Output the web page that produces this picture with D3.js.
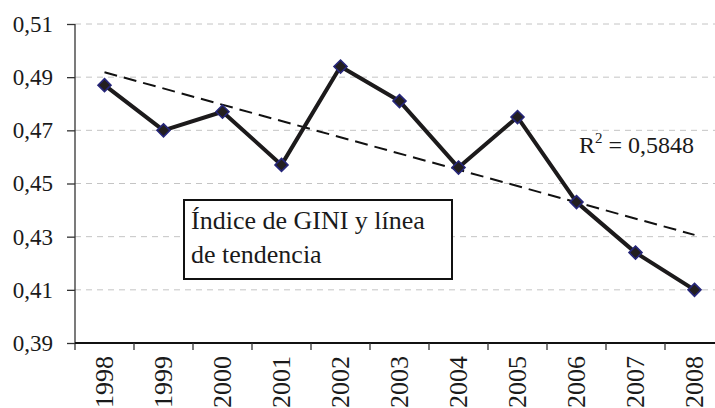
<!DOCTYPE html>
<html>
<head>
<meta charset="utf-8">
<script src="https://cdn.jsdelivr.net/npm/d3@7"></script>
<style>
  body { margin: 0; background: #fff; }
  text { font-family: "Liberation Serif", "Times New Roman", serif; fill: #1a1a1a; }
</style>
</head>
<body>
<div class="chart"></div>
<script>
var years = ['1998', '1999', '2000', '2001', '2002', '2003', '2004', '2005', '2006', '2007', '2008'];
var gini = [0.487, 0.470, 0.477, 0.457, 0.494, 0.481, 0.456, 0.475, 0.443, 0.424, 0.410];
var yTicks = [0.39, 0.41, 0.43, 0.45, 0.47, 0.49, 0.51];
var legendLines = ['Índice de GINI y línea', 'de tendencia'];
var r2Label = '0,5848';

var width = 715, height = 408;
var plotLeft = 75, plotTop = 24, plotBottom = 343, plotRight = 724;

var svg = d3.select(".chart")
  .append("svg")
  .attr("width", width)
  .attr("height", height);

var x = d3.scaleBand()
  .domain(years)
  .range([plotLeft, plotRight])
  .paddingInner(0).paddingOuter(0);

var y = d3.scaleLinear()
  .domain([0.39, 0.51])
  .range([plotBottom, plotTop]);

var locale = d3.formatLocale({decimal: ",", thousands: ".", grouping: [3], currency: ["", ""]});
var fmt = locale.format(".2f");

function cx(i) { return x(years[i]) + x.bandwidth() / 2; }

// grid lines
svg.append("g")
  .selectAll("line")
  .data(yTicks.filter(function(d) { return d > 0.39; }))
  .enter().append("line")
  .attr("x1", plotLeft).attr("x2", width)
  .attr("y1", function(d) { return y(d); })
  .attr("y2", function(d) { return y(d); })
  .attr("stroke", "#c4c4c4")
  .attr("stroke-width", 1)
  .attr("stroke-dasharray", "6,5");

// y axis
var yAxis = svg.append("g")
  .attr("transform", "translate(" + plotLeft + ",0)")
  .call(d3.axisLeft(y).tickValues(yTicks).tickFormat(fmt).tickSize(8).tickPadding(14));
yAxis.select(".domain").attr("stroke", "#333").attr("stroke-width", 1.3)
  .attr("d", "M0," + plotTop + "V" + (plotBottom + 7));
yAxis.selectAll(".tick line").attr("stroke", "#333").attr("stroke-width", 1.3);
yAxis.selectAll(".tick text")
  .style("font-family", "Liberation Serif, serif")
  .style("font-size", "23px")
  .attr("fill", "#1a1a1a");

// x axis, ticks between the categories
var xg = svg.append("g");
xg.append("line")
  .attr("x1", plotLeft).attr("x2", width)
  .attr("y1", plotBottom).attr("y2", plotBottom)
  .attr("stroke", "#111").attr("stroke-width", 1.8);

var bounds = years.slice(1).map(function(d) { return x(d); });
xg.selectAll(".xt")
  .data(bounds)
  .enter().append("line")
  .attr("class", "xt")
  .attr("x1", function(d) { return d; }).attr("x2", function(d) { return d; })
  .attr("y1", plotBottom).attr("y2", plotBottom + 7)
  .attr("stroke", "#333").attr("stroke-width", 1.3);

xg.selectAll(".xl")
  .data(years)
  .enter().append("text")
  .attr("class", "xl")
  .attr("text-anchor", "end")
  .attr("transform", function(d, i) {
    return "translate(" + (cx(i) + 8.5) + "," + (plotBottom + 13) + ") rotate(-90)";
  })
  .style("font-size", "26px")
  .text(function(d) { return d; });

// trend line (least squares fit of the series)
var n = gini.length;
var mx = d3.mean(d3.range(n)), my = d3.mean(gini);
var sxy = d3.sum(gini, function(v, i) { return (i - mx) * (v - my); });
var sxx = d3.sum(d3.range(n), function(i) { return (i - mx) * (i - mx); });
var slope = sxy / sxx, icpt = my - slope * mx;

svg.append("line")
  .attr("x1", cx(0))
  .attr("y1", y(icpt))
  .attr("x2", cx(n - 1))
  .attr("y2", y(icpt + slope * (n - 1)))
  .attr("stroke", "#111")
  .attr("stroke-width", 2)
  .attr("stroke-dasharray", "13,7");

// data line
var line = d3.line()
  .x(function(d, i) { return cx(i); })
  .y(function(d) { return y(d); });

svg.append("path")
  .datum(gini)
  .attr("fill", "none")
  .attr("stroke", "#1c1a1b")
  .attr("stroke-width", 4)
  .attr("stroke-linejoin", "round")
  .attr("d", line);

svg.selectAll(".pt")
  .data(gini)
  .enter().append("path")
  .attr("class", "pt")
  .attr("transform", function(d, i) { return "translate(" + cx(i) + "," + y(d) + ")"; })
  .attr("d", "M0,-6.5L6.5,0L0,6.5L-6.5,0Z")
  .attr("fill", "#231f20")
  .attr("stroke", "#26267a")
  .attr("stroke-width", 1.6);

// R squared label
var r2 = svg.append("text")
  .attr("x", 579).attr("y", 153)
  .style("font-size", "24px");
r2.append("tspan").text("R");
r2.append("tspan").attr("dy", -10).style("font-size", "15px").text("2");
r2.append("tspan").attr("dy", 10).text(" = " + r2Label);

// legend box
svg.append("rect")
  .attr("x", 184).attr("y", 200)
  .attr("width", 268).attr("height", 79)
  .attr("fill", "#fff")
  .attr("stroke", "#111")
  .attr("stroke-width", 2);

svg.selectAll(".lg")
  .data(legendLines)
  .enter().append("text")
  .attr("class", "lg")
  .attr("x", 191)
  .attr("y", function(d, i) { return 229 + i * 34; })
  .style("font-size", "26px")
  .text(function(d) { return d; });
</script>
</body>
</html>
